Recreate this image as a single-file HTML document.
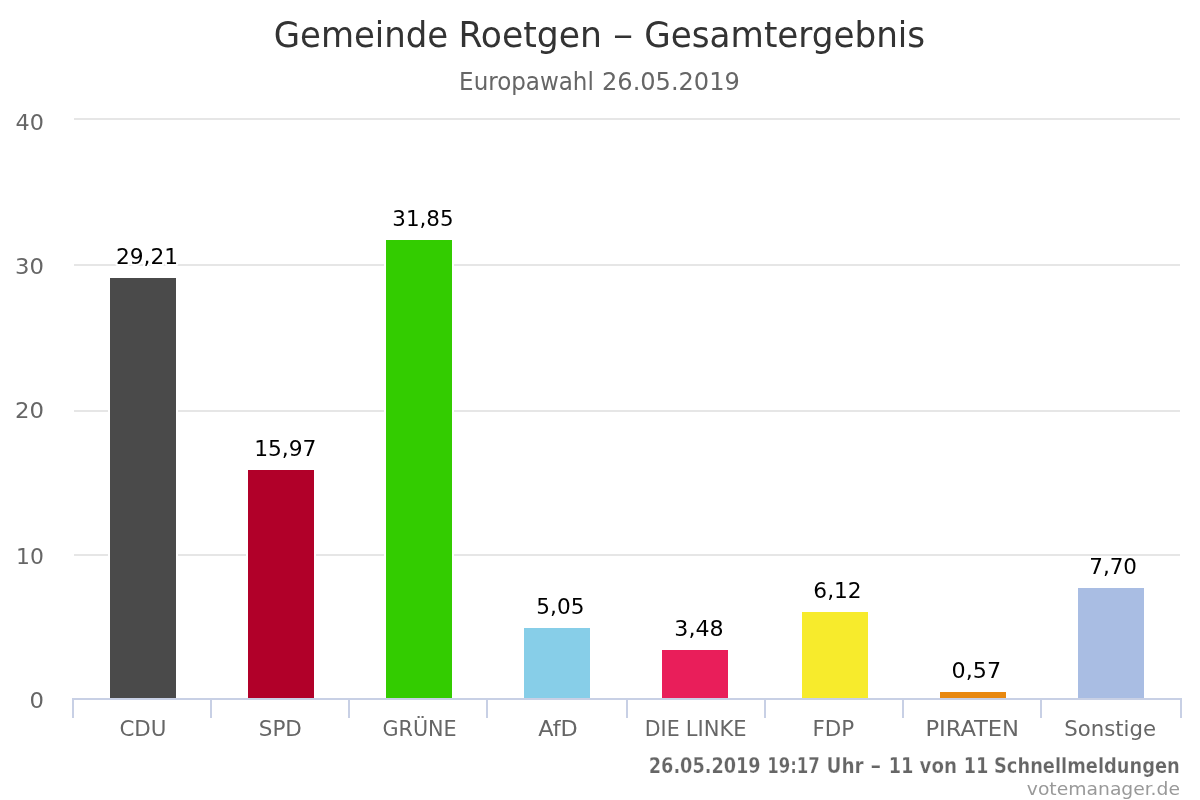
<!DOCTYPE html>
<html lang="de">
<head>
<meta charset="utf-8">
<title>Gemeinde Roetgen – Gesamtergebnis</title>
<style>
html,body{margin:0;padding:0;background:#fff;}
body{width:1200px;height:800px;overflow:hidden;}
svg{display:block;}
text{font-family:"DejaVu Sans Condensed","DejaVu Sans","Liberation Sans",sans-serif;}
.t{font-size:36px;fill:#333;}
.st{font-size:24px;fill:#666;}
.yl{font-size:22px;fill:#666;}
.xl{font-size:22px;fill:#666;}
.dl{font-size:22px;fill:#000;stroke:#fff;stroke-width:4px;stroke-linejoin:round;paint-order:stroke fill;}
.cap{font-size:21px;font-weight:bold;fill:#666;stroke:#fff;stroke-width:0.25px;}
.cr{font-size:18px;fill:#999;}
</style>
</head>
<body>
<svg width="1200" height="800" viewBox="0 0 1200 800">
<rect x="0" y="0" width="1200" height="800" fill="#ffffff"/>
<!-- grid -->
<g stroke="#e6e6e6" stroke-width="2">
<line x1="74" y1="119" x2="1180" y2="119"/>
<line x1="74" y1="265" x2="1180" y2="265"/>
<line x1="74" y1="411" x2="1180" y2="411"/>
<line x1="74" y1="555" x2="1180" y2="555"/>
</g>
<!-- axis + ticks -->
<g stroke="#c8d0e5" stroke-width="2" fill="none">
<line x1="72" y1="699" x2="1181" y2="699"/>
<line x1="73" y1="698" x2="73" y2="718"/>
<line x1="211" y1="698" x2="211" y2="718"/>
<line x1="349" y1="698" x2="349" y2="718"/>
<line x1="487" y1="698" x2="487" y2="718"/>
<line x1="627" y1="698" x2="627" y2="718"/>
<line x1="765" y1="698" x2="765" y2="718"/>
<line x1="903" y1="698" x2="903" y2="718"/>
<line x1="1041" y1="698" x2="1041" y2="718"/>
<line x1="1181" y1="698" x2="1181" y2="718"/>
</g>
<!-- bars -->
<rect x="108" y="276" width="70" height="422" fill="#ffffff"/><rect x="110" y="278" width="66" height="420" fill="#4a4a4a"/>
<rect x="246" y="468" width="70" height="230" fill="#ffffff"/><rect x="248" y="470" width="66" height="228" fill="#b10029"/>
<rect x="384" y="238" width="70" height="460" fill="#ffffff"/><rect x="386" y="240" width="66" height="458" fill="#33cc00"/>
<rect x="522" y="626" width="70" height="72" fill="#ffffff"/><rect x="524" y="628" width="66" height="70" fill="#87cee8"/>
<rect x="660" y="648" width="70" height="50" fill="#ffffff"/><rect x="662" y="650" width="66" height="48" fill="#e91e5a"/>
<rect x="800" y="610" width="70" height="88" fill="#ffffff"/><rect x="802" y="612" width="66" height="86" fill="#f7eb2c"/>
<rect x="938" y="690" width="70" height="8" fill="#ffffff"/><rect x="940" y="692" width="66" height="6" fill="#e8880f"/>
<rect x="1076" y="586" width="70" height="112" fill="#ffffff"/><rect x="1078" y="588" width="66" height="110" fill="#a9bde3"/>
<text class="t" y="47.4"><tspan x="273.75" textLength="174.48" lengthAdjust="spacingAndGlyphs">Gemeinde</tspan> <tspan x="458.48" textLength="143.46" lengthAdjust="spacingAndGlyphs">Roetgen</tspan> <tspan x="612.98" textLength="20.15" lengthAdjust="spacingAndGlyphs">–</tspan> <tspan x="644.28" textLength="280.91" lengthAdjust="spacingAndGlyphs">Gesamtergebnis</tspan></text>
<text class="st" y="90"><tspan x="459.13" textLength="134.70" lengthAdjust="spacingAndGlyphs">Europawahl</tspan> <tspan x="602.00" textLength="137.82" lengthAdjust="spacingAndGlyphs">26.05.2019</tspan></text>
<text class="yl" y="130"><tspan x="15.62" textLength="28.36" lengthAdjust="spacingAndGlyphs">40</tspan></text>
<text class="yl" y="274"><tspan x="14.99" textLength="28.90" lengthAdjust="spacingAndGlyphs">30</tspan></text>
<text class="yl" y="418"><tspan x="15.02" textLength="28.98" lengthAdjust="spacingAndGlyphs">20</tspan></text>
<text class="yl" y="564"><tspan x="16.04" textLength="27.81" lengthAdjust="spacingAndGlyphs">10</tspan></text>
<text class="yl" y="708"><tspan x="29.49" textLength="14.44" lengthAdjust="spacingAndGlyphs">0</tspan></text>
<text class="xl" y="735.75"><tspan x="119.41" textLength="47.15" lengthAdjust="spacingAndGlyphs">CDU</tspan></text>
<text class="xl" y="735.75"><tspan x="258.75" textLength="43.13" lengthAdjust="spacingAndGlyphs">SPD</tspan></text>
<text class="xl" y="735.75"><tspan x="382.50" textLength="74.18" lengthAdjust="spacingAndGlyphs">GRÜNE</tspan></text>
<text class="xl" y="735.75"><tspan x="538.24" textLength="39.48" lengthAdjust="spacingAndGlyphs">AfD</tspan></text>
<text class="xl" y="735.75"><tspan x="644.83" textLength="34.80" lengthAdjust="spacingAndGlyphs">DIE</tspan> <tspan x="685.87" textLength="60.74" lengthAdjust="spacingAndGlyphs">LINKE</tspan></text>
<text class="xl" y="735.75"><tspan x="812.40" textLength="41.77" lengthAdjust="spacingAndGlyphs">FDP</tspan></text>
<text class="xl" y="735.75"><tspan x="925.41" textLength="93.59" lengthAdjust="spacingAndGlyphs">PIRATEN</tspan></text>
<text class="xl" y="735.75"><tspan x="1064.23" textLength="91.73" lengthAdjust="spacingAndGlyphs">Sonstige</tspan></text>
<text class="dl" y="263.5"><tspan x="115.99" textLength="62.01" lengthAdjust="spacingAndGlyphs">29,21</tspan></text>
<text class="dl" y="455.5"><tspan x="254.23" textLength="62.23" lengthAdjust="spacingAndGlyphs">15,97</tspan></text>
<text class="dl" y="225.5"><tspan x="392.33" textLength="61.18" lengthAdjust="spacingAndGlyphs">31,85</tspan></text>
<text class="dl" y="613.5"><tspan x="536.38" textLength="48.04" lengthAdjust="spacingAndGlyphs">5,05</tspan></text>
<text class="dl" y="635.5"><tspan x="674.38" textLength="49.21" lengthAdjust="spacingAndGlyphs">3,48</tspan></text>
<text class="dl" y="597.5"><tspan x="813.38" textLength="48.23" lengthAdjust="spacingAndGlyphs">6,12</tspan></text>
<text class="dl" y="677.5"><tspan x="951.58" textLength="49.44" lengthAdjust="spacingAndGlyphs">0,57</tspan></text>
<text class="dl" y="573.5"><tspan x="1089.29" textLength="47.71" lengthAdjust="spacingAndGlyphs">7,70</tspan></text>
<text class="cap" y="772.9"><tspan x="648.77" textLength="111.89" lengthAdjust="spacingAndGlyphs">26.05.2019</tspan> <tspan x="767.18" textLength="52.60" lengthAdjust="spacingAndGlyphs">19:17</tspan> <tspan x="826.57" textLength="37.14" lengthAdjust="spacingAndGlyphs">Uhr</tspan> <tspan x="870.62" textLength="10.61" lengthAdjust="spacingAndGlyphs">–</tspan> <tspan x="888.69" textLength="24.72" lengthAdjust="spacingAndGlyphs">11</tspan> <tspan x="919.47" textLength="37.48" lengthAdjust="spacingAndGlyphs">von</tspan> <tspan x="963.69" textLength="24.72" lengthAdjust="spacingAndGlyphs">11</tspan> <tspan x="994.03" textLength="185.76" lengthAdjust="spacingAndGlyphs">Schnellmeldungen</tspan></text>
<text class="cr" y="795"><tspan x="1026.82" textLength="153.17" lengthAdjust="spacingAndGlyphs">votemanager.de</tspan></text>
</svg>
</body>
</html>
